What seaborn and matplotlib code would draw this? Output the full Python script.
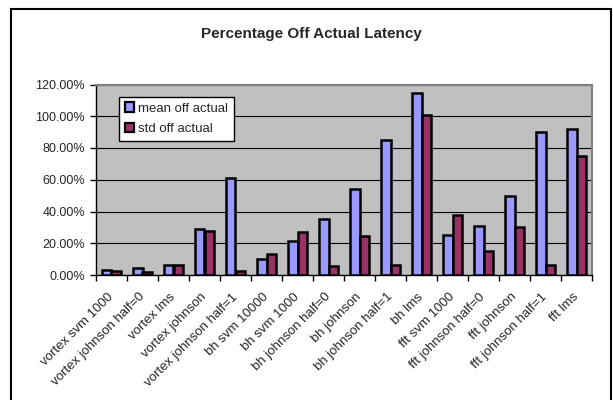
import numpy as np
import pandas as pd
import matplotlib
matplotlib.use("Agg")
import matplotlib.pyplot as plt
import seaborn as sns
from matplotlib.patches import Rectangle
from matplotlib.ticker import FuncFormatter

# Test configurations along the x axis
categories = [
    "vortex svm 1000", "vortex johnson half=0", "vortex lms", "vortex johnson",
    "vortex johnson half=1", "bh svm 10000", "bh svm 1000", "bh johnson half=0",
    "bh johnson", "bh johnson half=1", "bh lms", "fft svm 1000",
    "fft johnson half=0", "fft johnson", "fft johnson half=1", "fft lms",
]
# Percent off the actual latency
mean_off = [3.0, 4.5, 6.0, 29.0, 60.8, 10.0, 21.7, 35.5, 54.0, 84.8, 114.5, 25.3, 31.0, 49.7, 90.3, 92.2]
std_off = [2.6, 1.9, 6.3, 28.0, 2.4, 13.3, 27.4, 5.6, 24.8, 6.6, 100.8, 37.5, 15.4, 30.5, 6.2, 75.2]
series = ["mean off actual", "std off actual"]
colors = ["#9999FF", "#993366"]
yticks = [0, 20, 40, 60, 80, 100, 120]

sns.set_theme(style="white")
plt.rcParams["font.family"] = ["Liberation Sans", "DejaVu Sans"]

n = len(categories)
df = pd.DataFrame({
    "test": categories * 2,
    "value": mean_off + std_off,
    "series": [series[0]] * n + [series[1]] * n,
})

W, H = 613, 400
fig = plt.figure(figsize=(W / 100, H / 100), dpi=100)
ax = fig.add_axes([96 / W, 1 - 275 / H, 496 / W, 190.5 / H])
ax.set_facecolor("#C0C0C0")

sns.barplot(data=df, x="test", y="value", hue="series", palette=colors,
            saturation=1, width=0.6, gap=0, edgecolor="black", linewidth=1.8,
            errorbar=None, ax=ax, zorder=3)

ax.set_xlim(-0.5, n - 0.5)
ax.set_ylim(0, 120)
ax.set_yticks(yticks)
ax.yaxis.set_major_formatter(FuncFormatter(lambda v, p: f"{v:.2f}%"))
ax.yaxis.grid(True, color="black", linewidth=0.8, zorder=1)
ax.set_axisbelow(True)
ax.set_xlabel("")
ax.set_ylabel("")

ax.set_xticks(range(n))
ax.set_xticklabels(categories, rotation=45, ha="right", va="center",
                   rotation_mode="anchor", fontsize=9.5)
ax.set_xticks(np.arange(-0.5, n, 1), minor=True)
ax.tick_params(axis="x", which="major", length=0, pad=14.5, bottom=True)
ax.tick_params(axis="x", which="minor", length=4, width=1, color="black",
               direction="out", bottom=True)
ax.tick_params(axis="y", length=4, width=1, color="black", direction="out",
               pad=4, labelsize=9, left=True)

for side in ("left", "bottom"):
    ax.spines[side].set_color("black")
    ax.spines[side].set_linewidth(1.0)
for side in ("top", "right"):
    ax.spines[side].set_color("#808080")
    ax.spines[side].set_linewidth(1.5)

handles, labels = ax.get_legend_handles_labels()
leg = ax.legend(handles, labels, loc="upper left", bbox_to_anchor=(0.046, 0.937),
                borderaxespad=0, frameon=True, fancybox=False, edgecolor="black",
                framealpha=1, facecolor="white", fontsize=9.5, handlelength=0.7,
                handleheight=0.7, handletextpad=0.3, labelspacing=0.65,
                borderpad=0.45)
leg.get_frame().set_linewidth(1.0)
for h in leg.legend_handles:
    h.set_edgecolor("black")
    h.set_linewidth(1.6)

fig.text(311 / W, 1 - 34.4 / H, "Percentage Off Actual Latency", ha="center",
         va="center", fontweight="bold", fontsize=11)

fig.add_artist(Rectangle((10.5 / W, -0.1), 600 / W, 1.1 - 8.6 / H,
                         transform=fig.transFigure, fill=False,
                         edgecolor="black", linewidth=1.5))

fig.savefig("out.png", dpi=100)
